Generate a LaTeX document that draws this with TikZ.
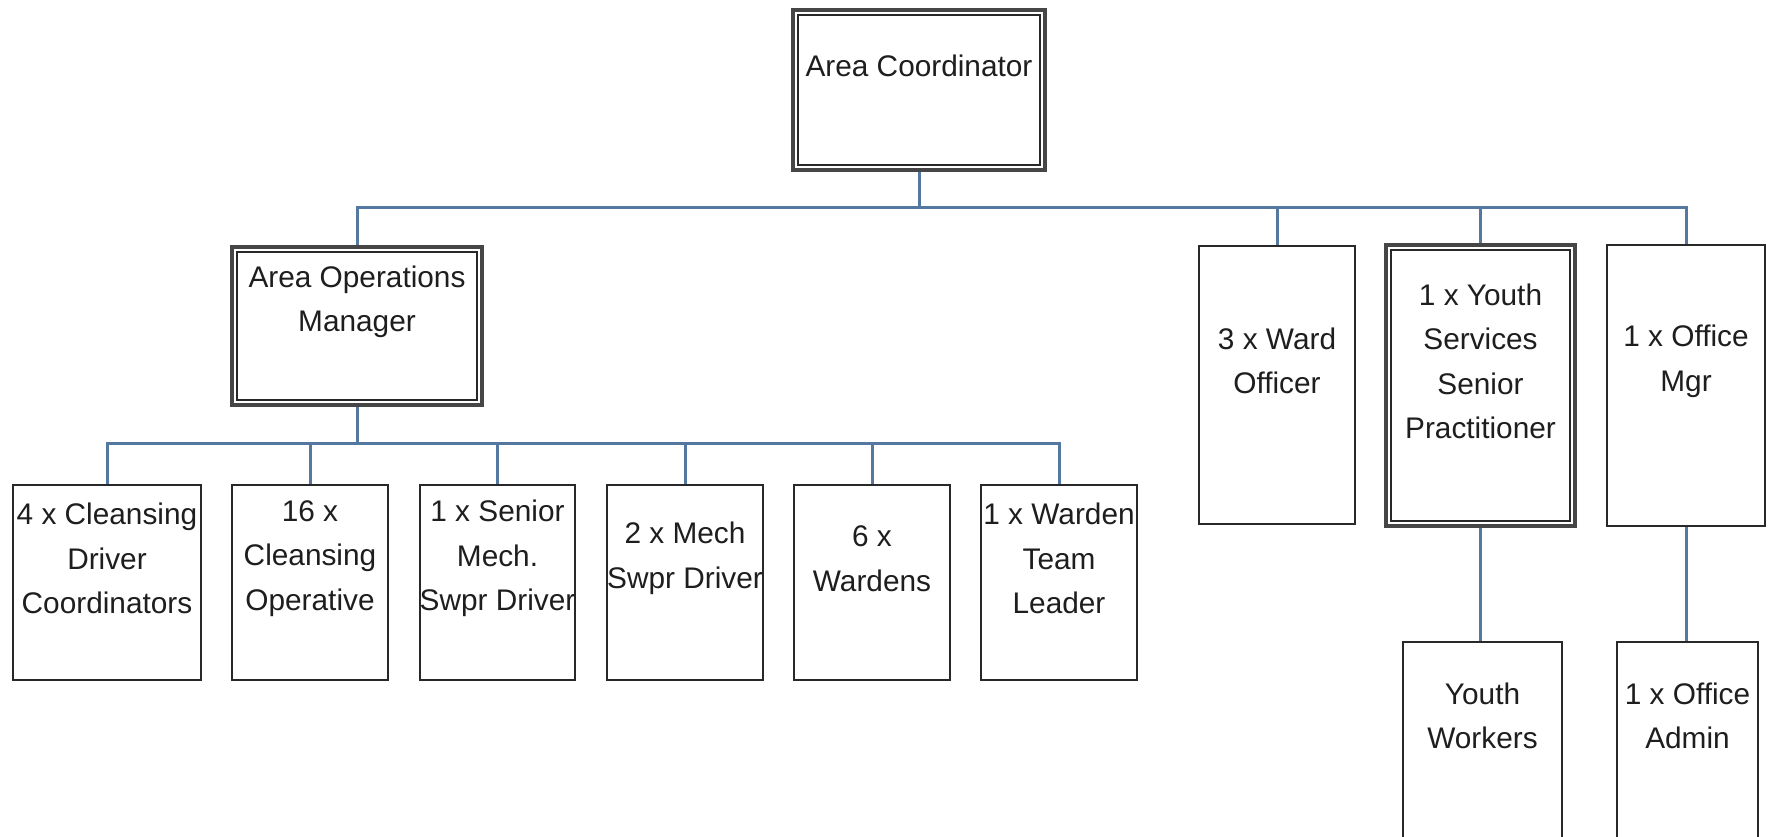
\documentclass[tikz,border=0pt]{standalone}
\usepackage{fontspec}
\setmainfont{Liberation Sans}
\usetikzlibrary{calc}
\definecolor{conncol}{RGB}{84,120,160}
\definecolor{boxcol}{RGB}{40,40,40}
\definecolor{outercol}{RGB}{70,70,70}
\definecolor{txtcol}{RGB}{30,30,30}
\newcommand\OrgBox[6]{%
  \node[box, minimum width=#4pt, minimum height=#5pt] (#1) at (#2,#3) {};
  \node[lbl] (#1-t) at ($(#1.center)+(0,-24)$) {#6};}
\newcommand\DblBox[6]{%
  \node[outerbox, minimum width=#4pt, minimum height=#5pt] (#1) at (#2,#3) {};
  \draw[innerline] ($(#1.north west)+(6.5,6.5)$) rectangle ($(#1.south east)+(-6.5,-6.5)$);
  \node[lbl] (#1-t) at ($(#1.center)+(0,-24)$) {#6};}
\begin{document}
\begin{tikzpicture}[x=1pt,y=-1pt,
  box/.style={draw=boxcol, line width=2.7pt, rectangle, inner sep=0pt, fill=white},
  outerbox/.style={draw=outercol, line width=3.5pt, rectangle, inner sep=0pt, fill=white},
  innerline/.style={draw=boxcol, line width=2.2pt},
  lbl/.style={align=center, font=\fontsize{29.8}{44.5}\selectfont, text=txtcol, inner sep=0pt},
  conn/.style={draw=conncol, line width=3pt}]
\fill[white] (0,0) rectangle (1769,837);
\useasboundingbox (0,0) rectangle (1769,837);

% top
\DblBox{ac}{919}{90}{252}{160}{Area Coordinator}
\DblBox{aom}{357}{326}{250}{158}{Area Operations\\Manager}
\OrgBox{ward}{1277}{385}{156}{278}{3 x Ward\\Officer}
\DblBox{ysp}{1480.5}{385.5}{189}{281}{1 x Youth\\Services\\Senior\\Practitioner}
\OrgBox{om}{1686}{385.5}{158}{281}{1 x Office\\Mgr}

% bottom row
\OrgBox{b1}{107}{582.5}{188}{195}{4 x Cleansing\\Driver\\Coordinators}
\OrgBox{b2}{310}{582.5}{156}{195}{16 x\\Cleansing\\Operative}
\OrgBox{b3}{497.5}{582.5}{155}{195}{1 x Senior\\Mech.\\Swpr Driver}
\OrgBox{b4}{685}{582.5}{156}{195}{2 x Mech\\Swpr Driver}
\OrgBox{b5}{872}{582.5}{156}{195}{6 x\\Wardens}
\OrgBox{b6}{1059}{582.5}{156}{195}{1 x Warden\\Team\\Leader}

\OrgBox{yw}{1482.5}{740}{159}{196}{Youth\\Workers}
\OrgBox{oa}{1687.5}{740}{141}{196}{1 x Office\\Admin}

% connectors
\coordinate (bus1) at (919,208);
\coordinate (bus2) at (357,443);
\draw[conn] (ac.south) -- (bus1);
\foreach \n in {aom,ward,ysp,om} \draw[conn] (bus1) -| (\n.north);
\draw[conn] (aom.south) -- (bus2);
\foreach \n in {b1,b2,b3,b4,b5,b6} \draw[conn] (bus2) -| (\n.north);
\draw[conn] (ysp.south) -- (ysp.south |- yw.north);
\draw[conn] (om.south) -- (om.south |- oa.north);
\end{tikzpicture}
\end{document}
